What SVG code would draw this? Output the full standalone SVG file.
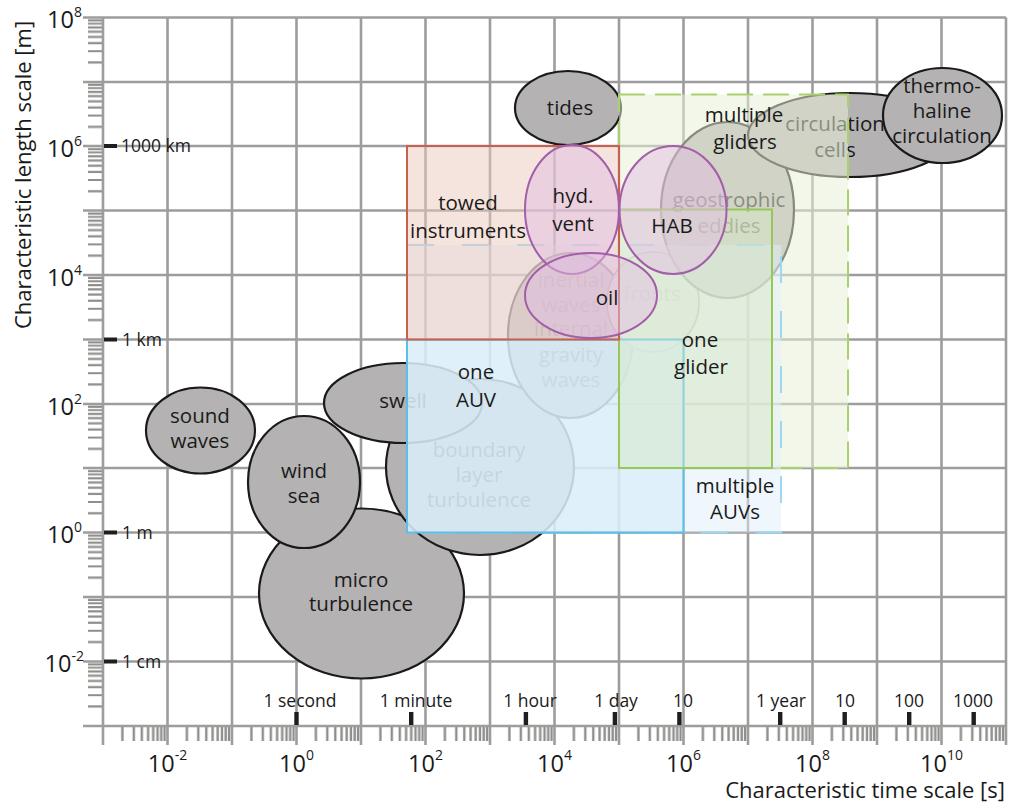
<svg xmlns="http://www.w3.org/2000/svg" width="1011" height="803" viewBox="0 0 1011 803">
<style>
text{font-family:"Open Sans","Noto Sans","Liberation Sans",sans-serif;fill:#1a1a1a}
.lab{font-size:20.5px;text-anchor:middle}
.ax{font-size:23.5px}
.sup{font-size:14px}
.unit{font-size:17.5px}
.tm{font-size:17.5px;text-anchor:middle}
.ttl{font-size:22px}
.grid{stroke:#9d9d9d;stroke-width:2.6;fill:none}
.gray{fill:#b4b2b2;stroke:#1a1a1a;stroke-width:2.2}
.pur{fill:rgb(226,190,226);fill-opacity:0.5;stroke:#a25ea8;stroke-width:2}
.blk{fill:#1e1e1e}
</style>
<defs>
<pattern id="xt" patternUnits="userSpaceOnUse" x="103" y="727" width="64.5" height="15">
<path d="M19.4 0V15M30.8 0V15M38.8 0V15M45.1 0V15M50.2 0V15M54.5 0V15M58.2 0V15M61.6 0V15" stroke="#8e8e8a" stroke-width="2.4"/>
</pattern>
<pattern id="yt" patternUnits="userSpaceOnUse" x="88" y="17.5" width="15" height="64.4">
<path d="M0 45H15M0 33.7H15M0 25.6H15M0 19.4H15M0 14.3H15M0 10H15M0 6.2H15M0 2.9H15" stroke="#8e8e8a" stroke-width="2.2"/>
</pattern>
</defs>
<rect width="1011" height="803" fill="#fff"/>
<g id="axes">
<rect x="88" y="17.5" width="15" height="708.5" fill="url(#yt)"/>
<rect x="103" y="727" width="903" height="14" fill="url(#xt)"/>
<path class="grid" d="M83 17.5H1006M83 82H1006M83 146H1006M83 210.5H1006M83 275H1006M83 339.5H1006M83 404H1006M83 468H1006M83 532.5H1006M83 597H1006M83 661.5H1006M83 726H1006"/>
<path class="grid" d="M103 17.5V745M167.5 17.5V745M232 17.5V745M296.5 17.5V745M361 17.5V745M425.5 17.5V745M490 17.5V745M554.5 17.5V745M619 17.5V745M683.5 17.5V745M748 17.5V745M812.5 17.5V745M877 17.5V745M941.5 17.5V745M1006 17.5V745"/>
<g class="ax" text-anchor="end">
<text x="82" y="28">10<tspan class="sup" dy="-11">8</tspan></text>
<text x="82" y="157">10<tspan class="sup" dy="-11">6</tspan></text>
<text x="82" y="286">10<tspan class="sup" dy="-11">4</tspan></text>
<text x="82" y="415">10<tspan class="sup" dy="-11">2</tspan></text>
<text x="82" y="543">10<tspan class="sup" dy="-11">0</tspan></text>
<text x="84" y="672">10<tspan class="sup" dy="-11">-2</tspan></text>
</g>
<g class="ax" text-anchor="middle">
<text x="167.5" y="772">10<tspan class="sup" dy="-12">-2</tspan></text>
<text x="296.5" y="772">10<tspan class="sup" dy="-12">0</tspan></text>
<text x="425.5" y="772">10<tspan class="sup" dy="-12">2</tspan></text>
<text x="554.5" y="772">10<tspan class="sup" dy="-12">4</tspan></text>
<text x="683.5" y="772">10<tspan class="sup" dy="-12">6</tspan></text>
<text x="812.5" y="772">10<tspan class="sup" dy="-12">8</tspan></text>
<text x="941.5" y="772">10<tspan class="sup" dy="-12">10</tspan></text>
</g>
<text class="ttl" x="1005" y="798" text-anchor="end">Characteristic time scale [s]</text>
<text class="ttl" transform="translate(31 175) rotate(-90)" text-anchor="middle">Characteristic length scale [m]</text>
<rect class="blk" x="104" y="144" width="13" height="4"/>
<rect class="blk" x="104" y="337.5" width="13" height="4"/>
<rect class="blk" x="104" y="530.5" width="13" height="4"/>
<rect class="blk" x="104" y="659.5" width="13" height="4"/>
<text class="unit" x="121" y="152">1000 km</text>
<text class="unit" x="122" y="346">1 km</text>
<text class="unit" x="122" y="539">1 m</text>
<text class="unit" x="122" y="668">1 cm</text>
<rect class="blk" x="294.3" y="712" width="4.4" height="13"/>
<rect class="blk" x="409" y="712" width="4.4" height="13"/>
<rect class="blk" x="523.7" y="712" width="4.4" height="13"/>
<rect class="blk" x="612.7" y="712" width="4.4" height="13"/>
<rect class="blk" x="677.2" y="712" width="4.4" height="13"/>
<rect class="blk" x="778" y="712" width="4.4" height="13"/>
<rect class="blk" x="842.5" y="712" width="4.4" height="13"/>
<rect class="blk" x="907" y="712" width="4.4" height="13"/>
<rect class="blk" x="971.5" y="712" width="4.4" height="13"/>
<text class="tm" x="300" y="707">1 second</text>
<text class="tm" x="416" y="707">1 minute</text>
<text class="tm" x="530" y="707">1 hour</text>
<text class="tm" x="616" y="707">1 day</text>
<text class="tm" x="683" y="707">10</text>
<text class="tm" x="781" y="707">1 year</text>
<text class="tm" x="845" y="707">10</text>
<text class="tm" x="909" y="707">100</text>
<text class="tm" x="973" y="707">1000</text>
</g>
<g id="micro-turbulence"><ellipse class="gray" cx="361.5" cy="593.5" rx="102.5" ry="85"/><text class="lab" x="361" y="587">micro</text><text class="lab" x="361" y="611">turbulence</text></g>
<g id="boundary-layer"><ellipse class="gray" cx="480" cy="467" rx="94" ry="88"/><text class="lab" x="479" y="457" style="fill:#333">boundary</text><text class="lab" x="479" y="482" style="fill:#333">layer</text><text class="lab" x="479" y="507" style="fill:#333">turbulence</text></g>
<g id="swell"><ellipse class="gray" cx="403" cy="403" rx="79" ry="40"/><text class="lab" x="403" y="408">swell</text></g>
<g id="wind-sea"><ellipse class="gray" cx="304" cy="482" rx="56" ry="66"/><text class="lab" x="304" y="478">wind</text><text class="lab" x="304" y="503">sea</text></g>
<g id="sound-waves"><ellipse class="gray" cx="200.5" cy="430.5" rx="54.5" ry="43"/><text class="lab" x="200" y="423">sound</text><text class="lab" x="200" y="448">waves</text></g>
<g id="tides"><ellipse class="gray" cx="568" cy="108" rx="53" ry="37"/><text class="lab" x="570" y="115">tides</text></g>
<g id="internal-waves"><ellipse class="gray" cx="570.5" cy="335.5" rx="62.5" ry="82.5"/><text class="lab" x="571" y="287" style="fill:#7a7070">inertial</text><text class="lab" x="571" y="312" style="fill:#7a7070">waves</text><text class="lab" x="571" y="336" style="fill:#7a7070">internal</text><text class="lab" x="571" y="362" style="fill:#555">gravity</text><text class="lab" x="571" y="387" style="fill:#555">waves</text></g>
<g id="fronts"><ellipse cx="653" cy="302" rx="46" ry="50" fill="#e4e4e2" stroke="#666" stroke-width="1.6"/><text class="lab" x="652" y="301" style="fill:#a8a8a8">fronts</text></g>
<g id="geostrophic-eddies"><ellipse class="gray" cx="727.5" cy="210" rx="66.5" ry="88"/><text class="lab" x="729" y="207">geostrophic</text><text class="lab" x="729" y="233">eddies</text></g>
<g id="circulation-cells"><ellipse class="gray" cx="850" cy="135" rx="102" ry="42"/><text class="lab" x="835" y="131">circulation</text><text class="lab" x="835" y="157">cells</text></g>
<g id="thermohaline"><ellipse class="gray" cx="942.5" cy="115.5" rx="59.5" ry="47.5"/><text class="lab" x="942" y="93">thermo-</text><text class="lab" x="942" y="118">haline</text><text class="lab" x="942" y="143">circulation</text></g>
<g id="multiple-gliders"><rect x="619" y="94.5" width="229" height="373.5" fill="rgb(232,240,215)" fill-opacity="0.53" stroke="#a8d26a" stroke-width="2" stroke-dasharray="26 10"/></g>
<g id="multiple-auvs"><rect x="407" y="245" width="374" height="287.5" fill="rgb(225,240,250)" fill-opacity="0.5" stroke="#9ed8f0" stroke-width="2" stroke-dasharray="27 28"/></g>
<g id="one-auv"><rect x="407" y="339.5" width="276.5" height="193" fill="rgb(217,237,250)" fill-opacity="0.73" stroke="#5bbfea" stroke-width="2"/></g>
<g id="one-glider"><rect x="619" y="209.5" width="153" height="258.5" fill="rgb(215,232,195)" fill-opacity="0.45" stroke="#96c858" stroke-width="2"/></g>
<g id="towed-instruments"><rect x="407" y="146" width="212" height="193.5" fill="rgb(235,200,190)" fill-opacity="0.5" stroke="#c8604f" stroke-width="2"/></g>
<g id="hyd-vent"><ellipse class="pur" cx="572" cy="209.5" rx="47" ry="64.5"/></g>
<g id="hab"><ellipse class="pur" cx="673" cy="210" rx="53.5" ry="64"/></g>
<g id="oil"><ellipse class="pur" cx="591" cy="295.5" rx="66" ry="42.5"/></g>
<g id="labels">
<text class="lab" x="468" y="210">towed</text><text class="lab" x="468" y="238">instruments</text>
<text class="lab" x="573" y="203">hyd.</text><text class="lab" x="573" y="231">vent</text>
<text class="lab" x="672" y="233">HAB</text>
<text class="lab" x="607" y="305">oil</text>
<text class="lab" x="744" y="122">multiple</text><text class="lab" x="745" y="149">gliders</text>
<text class="lab" x="700" y="347">one</text><text class="lab" x="701" y="374">glider</text>
<text class="lab" x="735" y="493">multiple</text><text class="lab" x="735" y="519">AUVs</text>
<text class="lab" x="476" y="379">one</text><text class="lab" x="476" y="407">AUV</text>
</g>
</svg>
